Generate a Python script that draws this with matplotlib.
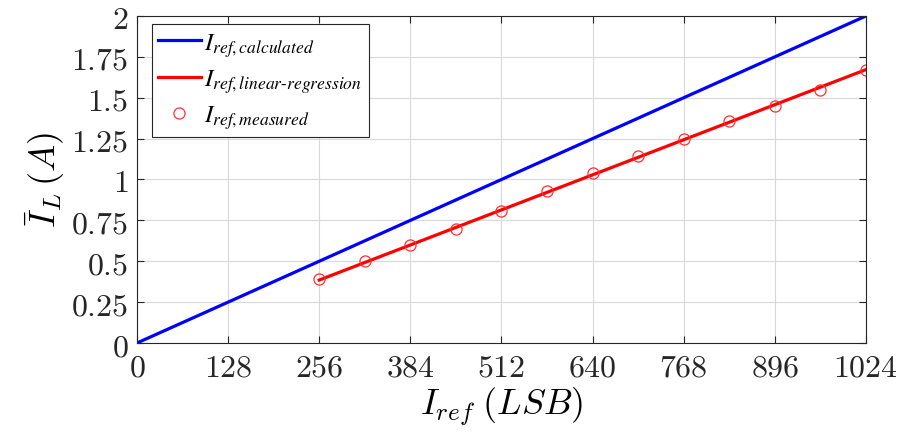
import numpy as np
import matplotlib
matplotlib.use("Agg")
import matplotlib.pyplot as plt
from matplotlib.font_manager import FontProperties

plt.rcParams['mathtext.fontset'] = 'cm'
plt.rcParams['font.family'] = ['DejaVu Serif']

# Reference current setting (LSB) and measured/calculated load current (A)
calc_x = [0, 1024]
calc_y = [0.0, 2.0]

meas_x = [256, 320, 384, 448, 512, 576, 640, 704, 768, 832, 896, 960, 1024]
meas_y = [0.39, 0.50, 0.60, 0.70, 0.81, 0.93, 1.04, 1.145, 1.25, 1.36, 1.45, 1.545, 1.67]

reg_x = [256, 1024]
reg_y = [0.385, 1.672]

x_ticks = [0, 128, 256, 384, 512, 640, 768, 896, 1024]
y_ticks = [0, 0.25, 0.5, 0.75, 1, 1.25, 1.5, 1.75, 2]
y_tick_labels = ['0', '0.25', '0.5', '0.75', '1', '1.25', '1.5', '1.75', '2']

fig = plt.figure(figsize=(9.06, 4.39), dpi=100)
ax = fig.add_axes([0.1512, 0.2164, 0.8046, 0.7449])

ax.plot(calc_x, calc_y, color='#0000ff', lw=2.3,
        label=r'$I_{ref,calculated}$')
ax.plot(reg_x, reg_y, color='#ff0000', lw=2.3,
        label=r'$I_{ref,linear\text{-}regression}$')
ax.plot(meas_x, meas_y, linestyle='none', marker='o', ms=8, mfc='none',
        mec='#ff3030', mew=0.9, label=r'$I_{ref,measured}$')

ax.set_xlim(0, 1024)
ax.set_ylim(0, 2)
ax.set_xticks(x_ticks, labels=[f'${v}$' for v in x_ticks])
ax.set_yticks(y_ticks, labels=[f'${s}$' for s in y_tick_labels])
ax.tick_params(axis='both', direction='in', length=5, width=0.8,
               labelsize=23, top=True, right=True, colors='#262626', pad=6)
ax.grid(True, color='#d9d9d9', lw=0.8)
ax.set_axisbelow(True)
for sp in ax.spines.values():
    sp.set_color('#262626')
    sp.set_linewidth(0.8)

ax.set_xlabel(r'$I_{ref}\;(LSB)$', fontsize=26, labelpad=2)
ax.set_ylabel(r'$\bar{I}_L\,(A)$', fontsize=26, labelpad=3)

leg_font = FontProperties(family='Liberation Serif', size=18,
                          math_fontfamily='stix')
leg = ax.legend(loc='upper left', bbox_to_anchor=(0.0205, 0.974), prop=leg_font,
                frameon=True, fancybox=False, edgecolor='#262626',
                framealpha=1, handlelength=1.7, handletextpad=0.15,
                borderpad=0.25, labelspacing=0.33, borderaxespad=0)
leg.get_frame().set_linewidth(0.8)

fig.savefig('out.png', dpi=100)
